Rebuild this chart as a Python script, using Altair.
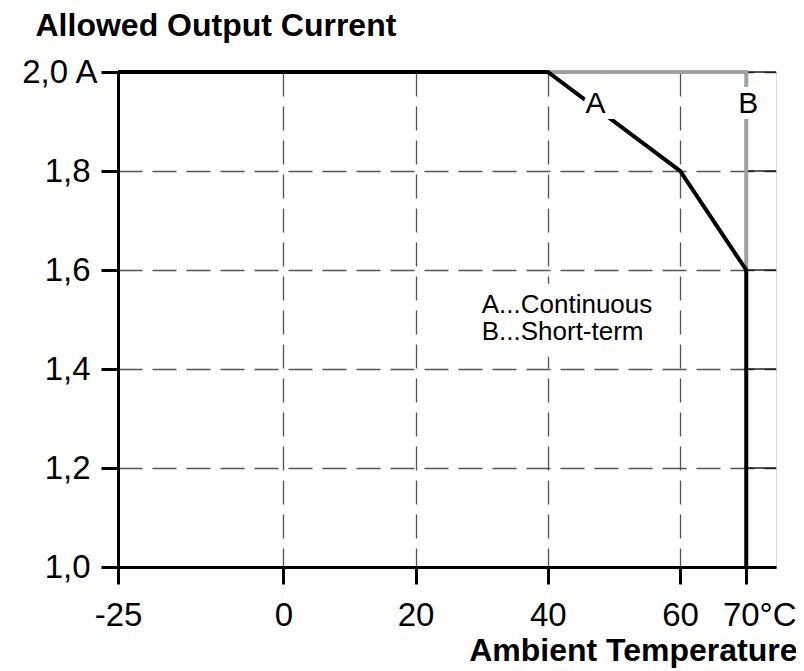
import altair as alt
import pandas as pd

FONT = "Liberation Sans"

# Curve A (continuous) and B (short-term)
a_temp = [-25, 40, 60, 70, 70]
a_curr = [2.0, 2.0, 1.8, 1.6, 1.0]
b_temp = [40, 70, 70]
b_curr = [2.0, 2.0, 1.6]

x_ticks = [-25, 0, 20, 40, 60, 70]
y_ticks = [1.0, 1.2, 1.4, 1.6, 1.8, 2.0]

curve_labels = ["A", "B"]
curve_label_x = [47.2, 70.3]
curve_label_y = [1.935, 1.935]

legend_text = ["A...Continuous\nB...Short-term"]
legend_x = [30.0]
legend_y = [1.513]

right_marks_y = [1.2, 1.4, 1.6, 1.8, 2.0]

X_DOMAIN = [-25, 74.5]
Y_DOMAIN = [1.0, 2.0]

df_a = pd.DataFrame({"t": a_temp, "c": a_curr, "i": range(len(a_temp))})
df_b = pd.DataFrame({"t": b_temp, "c": b_curr, "i": range(len(b_temp))})
df_lab = pd.DataFrame({"t": curve_label_x, "c": curve_label_y, "txt": curve_labels})
df_leg = pd.DataFrame({"t": legend_x, "c": legend_y, "txt": legend_text})
df_right = pd.DataFrame({"c": right_marks_y, "t": [70] * len(right_marks_y), "t2": [X_DOMAIN[1]] * len(right_marks_y)})
df_box = pd.DataFrame({"t": [29.0], "t2": [58.0], "c": [1.425], "c2": [1.572]})

xscale = alt.Scale(domain=X_DOMAIN, nice=False, zero=False)
yscale = alt.Scale(domain=Y_DOMAIN, nice=False, zero=False)

x_axis = alt.Axis(
    values=x_ticks,
    labelExpr="datum.value == 70 ? '70°C' : '' + datum.value",
    labelOffset={"condition": {"test": "datum.value == 70", "value": 13}, "value": 0},
    labelFlush=False, labelOverlap=False,
    labelFont=FONT, labelFontSize=33, labelColor="black", labelPadding=15,
    tickSize=17, tickWidth=3, tickColor="black",
    domainWidth=3, domainColor="black",
    grid=True, gridDash=[24, 10], gridColor="#555555", gridWidth=1.3,
    title="Ambient Temperature", titleFont=FONT, titleFontSize=32, titleFontWeight="bold",
    titleColor="black", titleAngle=0, titleAlign="right", titleBaseline="alphabetic",
    titleX=679, titleY=93,
)
y_axis = alt.Axis(
    values=y_ticks,
    labelExpr="datum.value == 2 ? '2,0 A' : replace(format(datum.value, '.1f'), '.', ',')",
    labelPadding={"condition": {"test": "datum.value == 2", "value": 4}, "value": 11},
    labelFlush=False, labelOverlap=False,
    labelFont=FONT, labelFontSize=33, labelColor="black",
    tickSize=17, tickWidth=3, tickColor="black",
    domainWidth=3, domainColor="black",
    grid=True, gridDash=[24, 10], gridColor="#555555", gridWidth=1.3,
    title="Allowed Output Current", titleFont=FONT, titleFontSize=32, titleFontWeight="bold",
    titleColor="black", titleAngle=0, titleAlign="left", titleBaseline="alphabetic",
    titleX=-83, titleY=-37,
)

box = alt.Chart(df_box).mark_rect(color="white").encode(
    x=alt.X("t:Q", scale=xscale, axis=x_axis), x2="t2:Q",
    y=alt.Y("c:Q", scale=yscale, axis=y_axis), y2="c2:Q",
)

right = alt.Chart(df_right).mark_rule(color="black", strokeWidth=1.3).encode(
    x=alt.X("t:Q", scale=xscale), x2="t2:Q", y=alt.Y("c:Q", scale=yscale)
)

line_b = alt.Chart(df_b).mark_line(color="#a0a0a0", strokeWidth=4, strokeJoin="miter").encode(
    x=alt.X("t:Q", scale=xscale), y=alt.Y("c:Q", scale=yscale), order="i:Q"
)
line_a = alt.Chart(df_a).mark_line(color="black", strokeWidth=4, strokeJoin="miter").encode(
    x=alt.X("t:Q", scale=xscale), y=alt.Y("c:Q", scale=yscale), order="i:Q"
)

halo = alt.Chart(df_lab).mark_text(
    font=FONT, fontSize=30, color="white", stroke="white", strokeWidth=12,
    align="center", baseline="middle",
).encode(x=alt.X("t:Q", scale=xscale), y=alt.Y("c:Q", scale=yscale), text="txt:N")
labels = alt.Chart(df_lab).mark_text(
    font=FONT, fontSize=30, color="black", align="center", baseline="middle",
).encode(x=alt.X("t:Q", scale=xscale), y=alt.Y("c:Q", scale=yscale), text="txt:N")

legend = alt.Chart(df_leg).mark_text(
    font=FONT, fontSize=26, color="black", align="left", baseline="alphabetic",
    lineBreak="\n", lineHeight=27,
).encode(x=alt.X("t:Q", scale=xscale), y=alt.Y("c:Q", scale=yscale), text="txt:N")

chart = alt.layer(box, right, line_b, line_a, halo, labels, legend).properties(
    width=658, height=495,
    padding={"left": 110, "top": 64, "right": 20, "bottom": 104},
    autosize=alt.AutoSizeParams(type="none"),
).configure_view(stroke=None).configure(background="white")

chart.save("out.html", embed_options={"renderer": "svg", "actions": False})
